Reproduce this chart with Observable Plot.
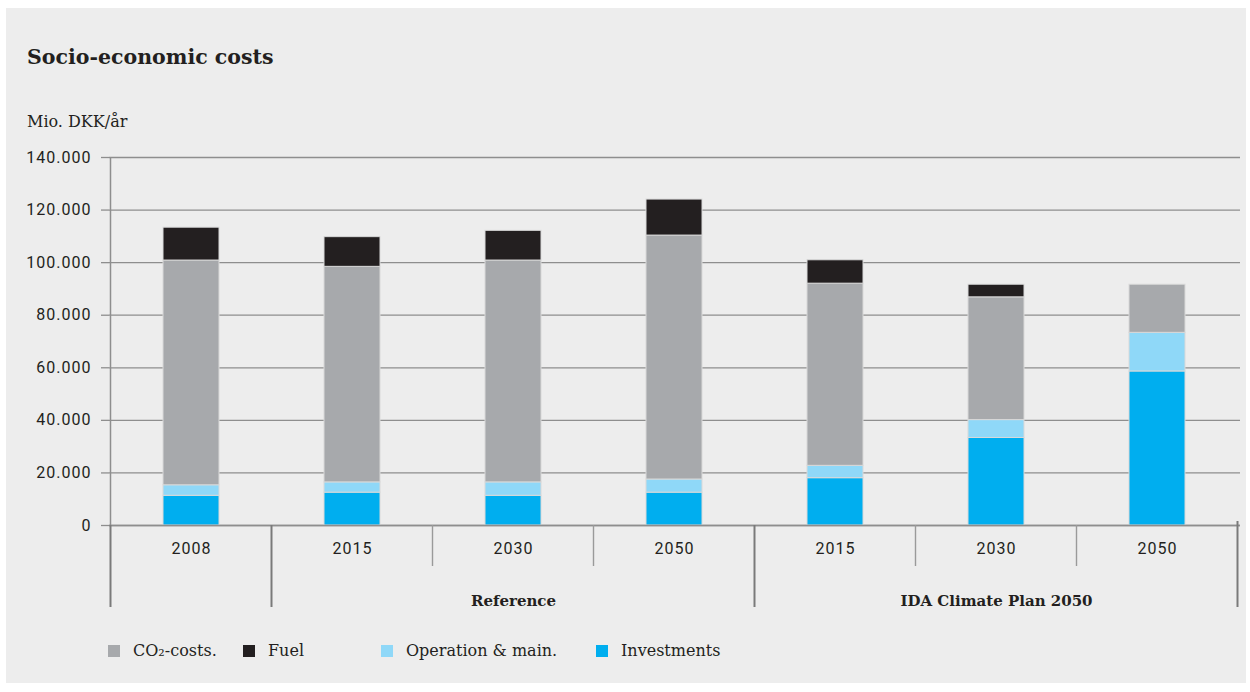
<!DOCTYPE html>
<html>
<head>
<meta charset="utf-8">
<script src="https://cdn.jsdelivr.net/npm/d3@7"></script>
<script src="https://cdn.jsdelivr.net/npm/@observablehq/plot@0.6"></script>
<style>
  html, body { margin: 0; padding: 0; background: #ffffff; width: 1250px; height: 692px; overflow: hidden; }
  #panel { position: absolute; left: 6px; top: 8px; width: 1240px; height: 675px; background: #ededed; }
  #title { position: absolute; left: 27px; top: 45px; font-family: "DejaVu Serif", serif; font-weight: bold; font-size: 20.5px; color: #231f20; white-space: nowrap; }
  #ylabel { position: absolute; left: 27px; top: 112px; font-family: "DejaVu Serif", serif; font-size: 16px; color: #231f20; white-space: nowrap; }
  #chart { position: absolute; left: 0; top: 140px; }
  #chart g[aria-label$="tick label"] text { letter-spacing: 1px; }
  #legend { position: absolute; left: 0; top: 641px; height: 20px; width: 1250px; font-family: "DejaVu Serif", serif; font-size: 16px; color: #231f20; }
  .item { position: absolute; top: 0; white-space: nowrap; }
  .sw { position: absolute; top: 4px; width: 12px; height: 12px; }
  .lt { position: absolute; top: 0; line-height: 20px; }
</style>
</head>
<body>
<div id="panel"></div>
<div id="title">Socio-economic costs</div>
<div id="ylabel">Mio. DKK/år</div>
<div id="chart"></div>
<div id="legend"></div>
<script>
// ---- data ----
const keys = ["2008", "Ref 2015", "Ref 2030", "Ref 2050", "IDA 2015", "IDA 2030", "IDA 2050"];
const years = ["2008", "2015", "2030", "2050", "2015", "2030", "2050"];
const components = ["Investments", "Operation & main.", "CO₂-costs.", "Fuel"];
const investments = [11300, 12500, 11300, 12500, 18000, 33300, 58600];
const operation   = [4000, 3900, 5100, 5000, 4700, 6800, 14700];
const co2costs    = [85500, 82000, 84400, 92800, 69300, 46700, 18300];
const fuel        = [12500, 11300, 11300, 13700, 8900, 4800, 0];
const groupLabels = ["Reference", "IDA Climate Plan 2050"];
const groupMid    = ["Ref 2030", "IDA 2030"];
// separators: boundary index (before key i; 7 = after last) and whether it is a long one
const sepIndex = [0, 1, 2, 3, 4, 5, 6, 7];
const sepLong  = [true, true, false, false, true, false, false, true];
const yTicks = [0, 20000, 40000, 60000, 80000, 100000, 120000, 140000];

const legendOrder = ["CO₂-costs.", "Fuel", "Operation & main.", "Investments"];
const colors = {"CO₂-costs.": "#a7a9ac", "Fuel": "#231f20", "Operation & main.": "#8fd8f8", "Investments": "#00aeef"};

// build table
const series = [investments, operation, co2costs, fuel];
const rows = [];
keys.forEach((k, i) => {
  components.forEach((c, j) => rows.push({key: k, component: c, value: series[j][i]}));
});
const groups = groupLabels.map((g, i) => ({label: g, mid: groupMid[i]}));
const fmt = v => d3.format(",")(v).replace(/,/g, ".");

const plot = Plot.plot({
  width: 1250,
  height: 480,
  marginTop: 17,
  marginBottom: 95,
  marginLeft: 109,
  marginRight: 10,
  style: {background: "transparent", fontFamily: "Roboto, 'DejaVu Sans', sans-serif", color: "#231f20", overflow: "visible"},
  x: {domain: keys, paddingInner: 0.65, paddingOuter: 0.325, label: null},
  y: {domain: [0, 140000], label: null},
  color: {domain: legendOrder, range: legendOrder.map(c => colors[c])},
  marks: [
    Plot.gridY({ticks: yTicks, stroke: "#8e8e8e", strokeOpacity: 1, strokeWidth: 1.3}),
    Plot.barY(rows, {x: "key", y: "value", fill: "component", order: components, stroke: "#d9d9d9", strokeWidth: 1}),
    Plot.ruleY([0], {stroke: "#8e8e8e", strokeWidth: 1.5}),
    Plot.axisY({ticks: yTicks, tickFormat: fmt, tickSize: 8, tickPadding: 10, fontSize: 16, stroke: "#8e8e8e", strokeWidth: 1.3, label: null}),
    Plot.axisX({tickSize: 0, tickPadding: 17, fontSize: 16, tickFormat: k => years[keys.indexOf(k)], label: null}),
    Plot.text(groups, {x: "mid", text: "label", frameAnchor: "bottom", dy: 80, fontSize: 15, fontWeight: "bold", fontFamily: "'DejaVu Serif', serif", fill: "#231f20"})
  ]
});
document.getElementById("chart").appendChild(plot);

// axis line and category separators, positioned with the plot's own x scale
const xs = plot.scale("x");
const gap = (xs.step - xs.bandwidth) / 2;
const bx = i => i < keys.length ? xs.apply(keys[i]) - gap : xs.apply(keys[keys.length - 1]) + xs.bandwidth + gap;
const ys = plot.scale("y");
const y0 = ys.apply(0), yTop = ys.apply(140000);
const svg = d3.select(plot);
svg.append("line").attr("x1", bx(0)).attr("x2", bx(0)).attr("y1", yTop).attr("y2", y0)
  .attr("stroke", "#8e8e8e").attr("stroke-width", 1.5);
sepIndex.forEach((s, i) => {
  svg.append("line").attr("x1", bx(s)).attr("x2", bx(s))
    .attr("y1", s === sepIndex.length - 1 ? y0 - 4 : y0)
    .attr("y2", y0 + (sepLong[i] ? 82 : 41))
    .attr("stroke", sepLong[i] ? "#7a7a7a" : "#9a9a9a")
    .attr("stroke-width", sepLong[i] ? 2 : 1.4);
});

// legend
const legendX = [108, 243, 381, 596];
const legend = document.getElementById("legend");
legendOrder.forEach((c, i) => {
  const it = document.createElement("div");
  it.className = "item";
  it.style.left = legendX[i] + "px";
  it.innerHTML = `<div class="sw" style="left:0;background:${colors[c]}"></div><div class="lt" style="left:25px">${c}</div>`;
  legend.appendChild(it);
});
</script>
</body>
</html>
